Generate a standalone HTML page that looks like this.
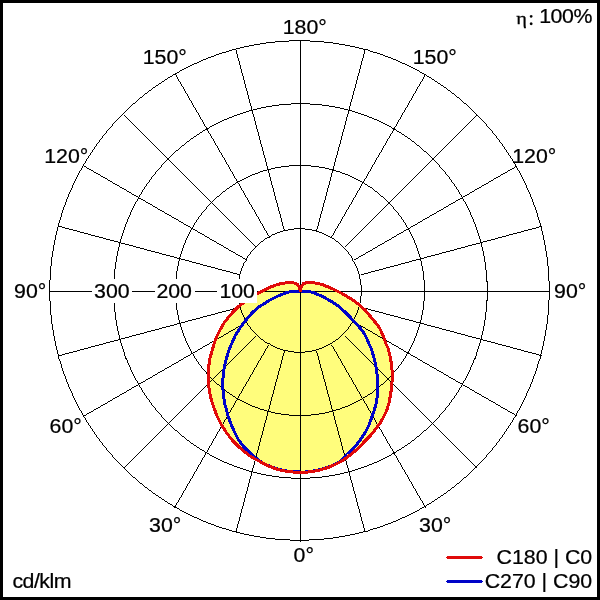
<!DOCTYPE html>
<html><head><meta charset="utf-8"><title>Polar intensity diagram</title>
<style>
html,body{margin:0;padding:0;background:#fff;}
body{width:600px;height:600px;overflow:hidden;}
svg{display:block;}
text{font-family:"Liberation Sans",Arial,sans-serif;font-size:21.33px;fill:#000;stroke:#000;stroke-width:0.25px;}
.sym{font-family:"Liberation Serif","DejaVu Serif",serif;}
</style></head><body>
<svg width="600" height="600" viewBox="0 0 600 600">
<rect x="0" y="0" width="600" height="600" fill="#000"/>
<rect x="3" y="3" width="594" height="594" fill="#fff"/>
<g shape-rendering="crispEdges">
<path d="M300.2,291.0 L299.3,287.5 L298.2,285.3 L296.7,283.8 L294.0,283.0 L290.0,282.6 L285.0,283.0 L280.0,283.8 L275.0,285.4 L270.0,287.3 L265.0,289.7 L260.0,292.1 L257.5,293.5 L250.0,298.3 L246.0,301.0 L242.0,304.0 L238.0,307.0 L234.0,311.0 L229.0,316.5 L224.0,323.0 L220.0,330.0 L216.5,337.0 L214.0,344.0 L212.0,351.0 L210.0,358.0 L208.8,366.0 L208.2,374.0 L208.3,382.0 L209.2,390.0 L210.8,398.0 L213.0,405.0 L217.0,416.0 L221.0,424.0 L226.0,432.0 L232.0,440.0 L239.0,447.0 L246.0,453.0 L250.0,456.0 L255.0,459.0 L260.0,461.5 L265.0,464.5 L270.0,466.5 L275.0,468.5 L280.0,470.0 L285.0,471.0 L290.0,471.8 L295.0,472.2 L300.2,472.4 L305.0,472.3 L310.0,471.8 L315.0,471.0 L320.0,470.0 L325.0,468.5 L330.0,466.8 L335.0,464.5 L340.0,462.0 L345.0,459.0 L350.0,455.2 L355.0,451.0 L360.0,446.5 L364.0,442.0 L370.0,436.0 L375.0,430.0 L379.5,424.0 L383.0,418.0 L386.5,411.0 L389.0,403.0 L390.5,395.0 L391.5,388.0 L392.2,380.0 L392.2,372.0 L391.5,364.0 L390.0,356.0 L388.0,348.0 L386.0,344.0 L384.0,338.0 L381.5,332.0 L379.0,327.0 L375.0,322.0 L370.0,316.0 L365.0,310.0 L360.0,305.5 L355.0,301.5 L352.0,299.5 L347.0,296.5 L342.0,293.5 L337.0,291.0 L332.0,288.5 L327.0,286.5 L322.0,284.5 L317.0,283.2 L312.0,282.6 L307.0,282.6 L303.5,283.5 L301.5,286.0 L300.2,291.0Z" fill="#fffd7c" stroke="none"/>
<g fill="none" stroke="#000" stroke-width="1">
<path d="M49,291.5H550M300.5,40V542"/>
<g id="thin">
<path stroke-width="0.707" d="M344.55,335.55L477.28,468.28M344.55,247.45L477.28,114.72M256.45,247.45L123.72,114.72M256.45,335.55L123.72,468.28"/>
<path stroke-width="0.725" d="M466.11,476.51A249.72,249.72 0 0 0 476.54,466.62M475.62,467.54A249.72,249.72 0 0 0 485.51,457.11M485.51,123.89A249.72,249.72 0 0 0 475.62,113.46M476.54,114.38A249.72,249.72 0 0 0 466.11,104.49M132.89,104.49A249.72,249.72 0 0 0 122.46,114.38M123.38,113.46A249.72,249.72 0 0 0 113.49,123.89M113.49,457.11A249.72,249.72 0 0 0 123.38,467.54M122.46,466.62A249.72,249.72 0 0 0 132.89,476.51M425.10,430.48A186.75,187.25 0 0 0 432.90,423.06M432.21,423.75A186.75,187.25 0 0 0 439.61,415.93M439.61,166.07A186.75,187.25 0 0 0 432.21,158.25M432.90,158.94A186.75,187.25 0 0 0 425.10,151.52M175.90,151.52A186.75,187.25 0 0 0 168.10,158.94M168.79,158.25A186.75,187.25 0 0 0 161.39,166.07M161.39,415.93A186.75,187.25 0 0 0 168.79,423.75M168.10,423.06A186.75,187.25 0 0 0 175.90,430.48M383.06,383.61A124.5,125 0 0 0 388.26,378.66M387.80,379.12A124.5,125 0 0 0 392.74,373.90M392.74,207.10A124.5,125 0 0 0 387.80,201.88M388.26,202.34A124.5,125 0 0 0 383.06,197.39M216.94,197.39A124.5,125 0 0 0 211.74,202.34M212.20,201.88A124.5,125 0 0 0 207.26,207.10M207.26,373.90A124.5,125 0 0 0 212.20,379.12M211.74,378.66A124.5,125 0 0 0 216.94,383.61M340.68,336.47A61.72,61.72 0 0 0 343.26,334.03M343.03,334.26A61.72,61.72 0 0 0 345.47,331.68M345.47,249.32A61.72,61.72 0 0 0 343.03,246.74M343.26,246.97A61.72,61.72 0 0 0 340.68,244.53M258.32,244.53A61.72,61.72 0 0 0 255.74,246.97M255.97,246.74A61.72,61.72 0 0 0 253.53,249.32M253.53,331.68A61.72,61.72 0 0 0 255.97,334.26M255.74,334.03A61.72,61.72 0 0 0 258.32,336.47"/>
<path stroke-width="0.76" d="M456.15,484.98A249.72,249.72 0 0 0 467.08,475.64M484.64,458.08A249.72,249.72 0 0 0 493.98,447.15M493.98,133.85A249.72,249.72 0 0 0 484.64,122.92M467.08,105.36A249.72,249.72 0 0 0 456.15,96.02M142.85,96.02A249.72,249.72 0 0 0 131.92,105.36M114.36,122.92A249.72,249.72 0 0 0 105.02,133.85M105.02,447.15A249.72,249.72 0 0 0 114.36,458.08M131.92,475.64A249.72,249.72 0 0 0 142.85,484.98M417.65,436.83A186.75,187.25 0 0 0 425.82,429.83M438.95,416.66A186.75,187.25 0 0 0 445.94,408.46M445.94,173.54A186.75,187.25 0 0 0 438.95,165.34M425.82,152.17A186.75,187.25 0 0 0 417.65,145.17M183.35,145.17A186.75,187.25 0 0 0 175.18,152.17M162.05,165.34A186.75,187.25 0 0 0 155.06,173.54M155.06,408.46A186.75,187.25 0 0 0 162.05,416.66M175.18,429.83A186.75,187.25 0 0 0 183.35,436.83M378.10,387.85A124.5,125 0 0 0 383.55,383.17M392.30,374.38A124.5,125 0 0 0 396.96,368.91M396.96,212.09A124.5,125 0 0 0 392.30,206.62M383.55,197.83A124.5,125 0 0 0 378.10,193.15M221.90,193.15A124.5,125 0 0 0 216.45,197.83M207.70,206.62A124.5,125 0 0 0 203.04,212.09M203.04,368.91A124.5,125 0 0 0 207.70,374.38M216.45,383.17A124.5,125 0 0 0 221.90,387.85M338.22,338.57A61.72,61.72 0 0 0 340.92,336.26M345.26,331.92A61.72,61.72 0 0 0 347.57,329.22M347.57,251.78A61.72,61.72 0 0 0 345.26,249.08M340.92,244.74A61.72,61.72 0 0 0 338.22,242.43M260.78,242.43A61.72,61.72 0 0 0 258.08,244.74M253.74,249.08A61.72,61.72 0 0 0 251.43,251.78M251.43,329.22A61.72,61.72 0 0 0 253.74,331.92M258.08,336.26A61.72,61.72 0 0 0 260.78,338.57"/>
<path stroke-width="0.793" d="M445.75,492.91A249.72,249.72 0 0 0 457.16,484.16M493.16,448.16A249.72,249.72 0 0 0 501.91,436.75M501.91,144.25A249.72,249.72 0 0 0 493.16,132.84M457.16,96.84A249.72,249.72 0 0 0 445.75,88.09M153.25,88.09A249.72,249.72 0 0 0 141.84,96.84M105.84,132.84A249.72,249.72 0 0 0 97.09,144.25M97.09,436.75A249.72,249.72 0 0 0 105.84,448.16M141.84,484.16A249.72,249.72 0 0 0 153.25,492.91M409.87,442.78A186.75,187.25 0 0 0 418.41,436.21M445.32,409.22A186.75,187.25 0 0 0 451.87,400.67M451.87,181.33A186.75,187.25 0 0 0 445.32,172.78M418.41,145.79A186.75,187.25 0 0 0 409.87,139.22M191.13,139.22A186.75,187.25 0 0 0 182.59,145.79M155.68,172.78A186.75,187.25 0 0 0 149.13,181.33M149.13,400.67A186.75,187.25 0 0 0 155.68,409.22M182.59,436.21A186.75,187.25 0 0 0 191.13,442.78M372.92,391.82A124.5,125 0 0 0 378.60,387.44M396.55,369.42A124.5,125 0 0 0 400.91,363.71M400.91,217.29A124.5,125 0 0 0 396.55,211.58M378.60,193.56A124.5,125 0 0 0 372.92,189.18M227.08,189.18A124.5,125 0 0 0 221.40,193.56M203.45,211.58A124.5,125 0 0 0 199.09,217.29M199.09,363.71A124.5,125 0 0 0 203.45,369.42M221.40,387.44A124.5,125 0 0 0 227.08,391.82M335.65,340.53A61.72,61.72 0 0 0 338.47,338.36M347.36,329.47A61.72,61.72 0 0 0 349.53,326.65M349.53,254.35A61.72,61.72 0 0 0 347.36,251.53M338.47,242.64A61.72,61.72 0 0 0 335.65,240.47M263.35,240.47A61.72,61.72 0 0 0 260.53,242.64M251.64,251.53A61.72,61.72 0 0 0 249.47,254.35M249.47,326.65A61.72,61.72 0 0 0 251.64,329.47M260.53,338.36A61.72,61.72 0 0 0 263.35,340.53"/>
<path stroke-width="0.824" d="M434.96,500.29A249.72,249.72 0 0 0 446.81,492.14M501.14,437.81A249.72,249.72 0 0 0 509.29,425.96M509.29,155.04A249.72,249.72 0 0 0 501.14,143.19M446.81,88.86A249.72,249.72 0 0 0 434.96,80.71M164.04,80.71A249.72,249.72 0 0 0 152.19,88.86M97.86,143.19A249.72,249.72 0 0 0 89.71,155.04M89.71,425.96A249.72,249.72 0 0 0 97.86,437.81M152.19,492.14A249.72,249.72 0 0 0 164.04,500.29M401.80,448.31A186.75,187.25 0 0 0 410.66,442.20M451.30,401.46A186.75,187.25 0 0 0 457.39,392.57M457.39,189.43A186.75,187.25 0 0 0 451.30,180.54M410.66,139.80A186.75,187.25 0 0 0 401.80,133.69M199.20,133.69A186.75,187.25 0 0 0 190.34,139.80M149.70,180.54A186.75,187.25 0 0 0 143.61,189.43M143.61,392.57A186.75,187.25 0 0 0 149.70,401.46M190.34,442.20A186.75,187.25 0 0 0 199.20,448.31M367.53,395.51A124.5,125 0 0 0 373.44,391.43M400.53,364.24A124.5,125 0 0 0 404.59,358.31M404.59,222.69A124.5,125 0 0 0 400.53,216.76M373.44,189.57A124.5,125 0 0 0 367.53,185.49M232.47,185.49A124.5,125 0 0 0 226.56,189.57M199.47,216.76A124.5,125 0 0 0 195.41,222.69M195.41,358.31A124.5,125 0 0 0 199.47,364.24M226.56,391.43A124.5,125 0 0 0 232.47,395.51M332.98,342.35A61.72,61.72 0 0 0 335.91,340.34M349.34,326.91A61.72,61.72 0 0 0 351.35,323.98M351.35,257.02A61.72,61.72 0 0 0 349.34,254.09M335.91,240.66A61.72,61.72 0 0 0 332.98,238.65M266.02,238.65A61.72,61.72 0 0 0 263.09,240.66M249.66,254.09A61.72,61.72 0 0 0 247.65,257.02M247.65,323.98A61.72,61.72 0 0 0 249.66,326.91M263.09,340.34A61.72,61.72 0 0 0 266.02,342.35"/>
<path stroke-width="0.853" d="M423.79,507.09A249.72,249.72 0 0 0 436.06,499.58M508.58,427.06A249.72,249.72 0 0 0 516.09,414.79M516.09,166.21A249.72,249.72 0 0 0 508.58,153.94M436.06,81.42A249.72,249.72 0 0 0 423.79,73.91M175.21,73.91A249.72,249.72 0 0 0 162.94,81.42M90.42,153.94A249.72,249.72 0 0 0 82.91,166.21M82.91,414.79A249.72,249.72 0 0 0 90.42,427.06M162.94,499.58A249.72,249.72 0 0 0 175.21,507.09M393.45,453.41A186.75,187.25 0 0 0 402.62,447.77M456.85,393.39A186.75,187.25 0 0 0 462.47,384.20M462.47,197.80A186.75,187.25 0 0 0 456.85,188.61M402.62,134.23A186.75,187.25 0 0 0 393.45,128.59M207.55,128.59A186.75,187.25 0 0 0 198.38,134.23M144.15,188.61A186.75,187.25 0 0 0 138.53,197.80M138.53,384.20A186.75,187.25 0 0 0 144.15,393.39M198.38,447.77A186.75,187.25 0 0 0 207.55,453.41M361.97,398.92A124.5,125 0 0 0 368.08,395.16M404.24,358.85A124.5,125 0 0 0 407.98,352.72M407.98,228.28A124.5,125 0 0 0 404.24,222.15M368.08,185.84A124.5,125 0 0 0 361.97,182.08M238.03,182.08A124.5,125 0 0 0 231.92,185.84M195.76,222.15A124.5,125 0 0 0 192.02,228.28M192.02,352.72A124.5,125 0 0 0 195.76,358.85M231.92,395.16A124.5,125 0 0 0 238.03,398.92M330.22,344.03A61.72,61.72 0 0 0 333.25,342.17M351.17,324.25A61.72,61.72 0 0 0 353.03,321.22M353.03,259.78A61.72,61.72 0 0 0 351.17,256.75M333.25,238.83A61.72,61.72 0 0 0 330.22,236.97M268.78,236.97A61.72,61.72 0 0 0 265.75,238.83M247.83,256.75A61.72,61.72 0 0 0 245.97,259.78M245.97,321.22A61.72,61.72 0 0 0 247.83,324.25M265.75,342.17A61.72,61.72 0 0 0 268.78,344.03"/>
<path stroke-width="0.866" d="M331.65,344.95L425.50,507.51M354.45,322.15L517.01,416.00M354.45,259.85L517.01,166.00M331.65,237.05L425.50,74.49M269.35,237.05L175.50,74.49M246.55,259.85L83.99,166.00M246.55,322.15L83.99,416.00M268.55,344.95L174.70,507.51"/>
<path stroke-width="0.879" d="M412.29,513.30A249.72,249.72 0 0 0 424.93,506.44M515.44,415.93A249.72,249.72 0 0 0 522.30,403.29M522.30,177.71A249.72,249.72 0 0 0 515.44,165.07M424.93,74.56A249.72,249.72 0 0 0 412.29,67.70M186.71,67.70A249.72,249.72 0 0 0 174.07,74.56M83.56,165.07A249.72,249.72 0 0 0 76.70,177.71M76.70,403.29A249.72,249.72 0 0 0 83.56,415.93M174.07,506.44A249.72,249.72 0 0 0 186.71,513.30M384.85,458.06A186.75,187.25 0 0 0 394.30,452.92M461.99,385.05A186.75,187.25 0 0 0 467.12,375.57M467.12,206.43A186.75,187.25 0 0 0 461.99,196.95M394.30,129.08A186.75,187.25 0 0 0 384.85,123.94M216.15,123.94A186.75,187.25 0 0 0 206.70,129.08M139.01,196.95A186.75,187.25 0 0 0 133.88,206.43M133.88,375.57A186.75,187.25 0 0 0 139.01,385.05M206.70,452.92A186.75,187.25 0 0 0 216.15,458.06M356.23,402.02A124.5,125 0 0 0 362.53,398.59M407.66,353.28A124.5,125 0 0 0 411.08,346.96M411.08,234.04A124.5,125 0 0 0 407.66,227.72M362.53,182.41A124.5,125 0 0 0 356.23,178.98M243.77,178.98A124.5,125 0 0 0 237.47,182.41M192.34,227.72A124.5,125 0 0 0 188.92,234.04M188.92,346.96A124.5,125 0 0 0 192.34,353.28M237.47,398.59A124.5,125 0 0 0 243.77,402.02M327.38,345.57A61.72,61.72 0 0 0 330.50,343.87M352.87,321.50A61.72,61.72 0 0 0 354.57,318.38M354.57,262.62A61.72,61.72 0 0 0 352.87,259.50M330.50,237.13A61.72,61.72 0 0 0 327.38,235.43M271.62,235.43A61.72,61.72 0 0 0 268.50,237.13M246.13,259.50A61.72,61.72 0 0 0 244.43,262.62M244.43,318.38A61.72,61.72 0 0 0 246.13,321.50M268.50,343.87A61.72,61.72 0 0 0 271.62,345.57"/>
<path stroke-width="0.903" d="M400.47,518.90A249.72,249.72 0 0 0 413.45,512.70M521.70,404.45A249.72,249.72 0 0 0 527.90,391.47M527.90,189.53A249.72,249.72 0 0 0 521.70,176.55M413.45,68.30A249.72,249.72 0 0 0 400.47,62.10M198.53,62.10A249.72,249.72 0 0 0 185.55,68.30M77.30,176.55A249.72,249.72 0 0 0 71.10,189.53M71.10,391.47A249.72,249.72 0 0 0 77.30,404.45M185.55,512.70A249.72,249.72 0 0 0 198.53,518.90M376.01,462.26A186.75,187.25 0 0 0 385.72,457.62M466.67,376.45A186.75,187.25 0 0 0 471.30,366.71M471.30,215.29A186.75,187.25 0 0 0 466.67,205.55M385.72,124.38A186.75,187.25 0 0 0 376.01,119.74M224.99,119.74A186.75,187.25 0 0 0 215.28,124.38M134.33,205.55A186.75,187.25 0 0 0 129.70,215.29M129.70,366.71A186.75,187.25 0 0 0 134.33,376.45M215.28,457.62A186.75,187.25 0 0 0 224.99,462.26M350.34,404.83A124.5,125 0 0 0 356.81,401.73M410.78,347.54A124.5,125 0 0 0 413.87,341.04M413.87,239.96A124.5,125 0 0 0 410.78,233.46M356.81,179.27A124.5,125 0 0 0 350.34,176.17M249.66,176.17A124.5,125 0 0 0 243.19,179.27M189.22,233.46A124.5,125 0 0 0 186.13,239.96M186.13,341.04A124.5,125 0 0 0 189.22,347.54M243.19,401.73A124.5,125 0 0 0 249.66,404.83M324.46,346.95A61.72,61.72 0 0 0 327.66,345.42M354.42,318.66A61.72,61.72 0 0 0 355.95,315.46M355.95,265.54A61.72,61.72 0 0 0 354.42,262.34M327.66,235.58A61.72,61.72 0 0 0 324.46,234.05M274.54,234.05A61.72,61.72 0 0 0 271.34,235.58M244.58,262.34A61.72,61.72 0 0 0 243.05,265.54M243.05,315.46A61.72,61.72 0 0 0 244.58,318.66M271.34,345.42A61.72,61.72 0 0 0 274.54,346.95"/>
<path stroke-width="0.924" d="M388.38,523.87A249.72,249.72 0 0 0 401.67,518.36M527.36,392.67A249.72,249.72 0 0 0 532.87,379.38M532.87,201.62A249.72,249.72 0 0 0 527.36,188.33M401.67,62.64A249.72,249.72 0 0 0 388.38,57.13M210.62,57.13A249.72,249.72 0 0 0 197.33,62.64M71.64,188.33A249.72,249.72 0 0 0 66.13,201.62M66.13,379.38A249.72,249.72 0 0 0 71.64,392.67M197.33,518.36A249.72,249.72 0 0 0 210.62,523.87M366.97,465.99A186.75,187.25 0 0 0 376.90,461.86M470.91,367.61A186.75,187.25 0 0 0 475.02,357.65M475.02,224.35A186.75,187.25 0 0 0 470.91,214.39M376.90,120.14A186.75,187.25 0 0 0 366.97,116.01M234.03,116.01A186.75,187.25 0 0 0 224.10,120.14M130.09,214.39A186.75,187.25 0 0 0 125.98,224.35M125.98,357.65A186.75,187.25 0 0 0 130.09,367.61M224.10,461.86A186.75,187.25 0 0 0 234.03,465.99M344.31,407.31A124.5,125 0 0 0 350.94,404.56M413.60,341.64A124.5,125 0 0 0 416.35,334.99M416.35,246.01A124.5,125 0 0 0 413.60,239.36M350.94,176.44A124.5,125 0 0 0 344.31,173.69M255.69,173.69A124.5,125 0 0 0 249.06,176.44M186.40,239.36A124.5,125 0 0 0 183.65,246.01M183.65,334.99A124.5,125 0 0 0 186.40,341.64M249.06,404.56A124.5,125 0 0 0 255.69,407.31M321.47,348.18A61.72,61.72 0 0 0 324.75,346.82M355.82,315.75A61.72,61.72 0 0 0 357.18,312.47M357.18,268.53A61.72,61.72 0 0 0 355.82,265.25M324.75,234.18A61.72,61.72 0 0 0 321.47,232.82M277.53,232.82A61.72,61.72 0 0 0 274.25,234.18M243.18,265.25A61.72,61.72 0 0 0 241.82,268.53M241.82,312.47A61.72,61.72 0 0 0 243.18,315.75M274.25,346.82A61.72,61.72 0 0 0 277.53,348.18"/>
<path stroke-width="0.943" d="M376.05,528.20A249.72,249.72 0 0 0 389.60,523.40M532.40,380.60A249.72,249.72 0 0 0 537.20,367.05M537.20,213.95A249.72,249.72 0 0 0 532.40,200.40M389.60,57.60A249.72,249.72 0 0 0 376.05,52.80M222.95,52.80A249.72,249.72 0 0 0 209.40,57.60M66.60,200.40A249.72,249.72 0 0 0 61.80,213.95M61.80,367.05A249.72,249.72 0 0 0 66.60,380.60M209.40,523.40A249.72,249.72 0 0 0 222.95,528.20M357.74,469.24A186.75,187.25 0 0 0 367.88,465.64M474.67,358.56A186.75,187.25 0 0 0 478.26,348.40M478.26,233.60A186.75,187.25 0 0 0 474.67,223.44M367.88,116.36A186.75,187.25 0 0 0 357.74,112.76M243.26,112.76A186.75,187.25 0 0 0 233.12,116.36M126.33,223.44A186.75,187.25 0 0 0 122.74,233.60M122.74,348.40A186.75,187.25 0 0 0 126.33,358.56M233.12,465.64A186.75,187.25 0 0 0 243.26,469.24M338.16,409.48A124.5,125 0 0 0 344.92,407.08M416.11,335.60A124.5,125 0 0 0 418.51,328.82M418.51,252.18A124.5,125 0 0 0 416.11,245.40M344.92,173.92A124.5,125 0 0 0 338.16,171.52M261.84,171.52A124.5,125 0 0 0 255.08,173.92M183.89,245.40A124.5,125 0 0 0 181.49,252.18M181.49,328.82A124.5,125 0 0 0 183.89,335.60M255.08,407.08A124.5,125 0 0 0 261.84,409.48M318.42,349.25A61.72,61.72 0 0 0 321.77,348.06M357.06,312.77A61.72,61.72 0 0 0 358.25,309.42M358.25,271.58A61.72,61.72 0 0 0 357.06,268.23M321.77,232.94A61.72,61.72 0 0 0 318.42,231.75M280.58,231.75A61.72,61.72 0 0 0 277.23,232.94M241.94,268.23A61.72,61.72 0 0 0 240.75,271.58M240.75,309.42A61.72,61.72 0 0 0 241.94,312.77M277.23,348.06A61.72,61.72 0 0 0 280.58,349.25"/>
<path stroke-width="0.959" d="M363.50,531.88A249.72,249.72 0 0 0 377.29,527.79M536.79,368.29A249.72,249.72 0 0 0 540.88,354.50M540.88,226.50A249.72,249.72 0 0 0 536.79,212.71M377.29,53.21A249.72,249.72 0 0 0 363.50,49.12M235.50,49.12A249.72,249.72 0 0 0 221.71,53.21M62.21,212.71A249.72,249.72 0 0 0 58.12,226.50M58.12,354.50A249.72,249.72 0 0 0 62.21,368.29M221.71,527.79A249.72,249.72 0 0 0 235.50,531.88M348.36,472.00A186.75,187.25 0 0 0 358.67,468.93M477.96,349.33A186.75,187.25 0 0 0 481.01,338.99M481.01,243.01A186.75,187.25 0 0 0 477.96,232.67M358.67,113.07A186.75,187.25 0 0 0 348.36,110.00M252.64,110.00A186.75,187.25 0 0 0 242.33,113.07M123.04,232.67A186.75,187.25 0 0 0 119.99,243.01M119.99,338.99A186.75,187.25 0 0 0 123.04,349.33M242.33,468.93A186.75,187.25 0 0 0 252.64,472.00M331.91,411.33A124.5,125 0 0 0 338.78,409.28M418.31,329.44A124.5,125 0 0 0 420.34,322.54M420.34,258.46A124.5,125 0 0 0 418.31,251.56M338.78,171.72A124.5,125 0 0 0 331.91,169.67M268.09,169.67A124.5,125 0 0 0 261.22,171.72M181.69,251.56A124.5,125 0 0 0 179.66,258.46M179.66,322.54A124.5,125 0 0 0 181.69,329.44M261.22,409.28A124.5,125 0 0 0 268.09,411.33M315.32,350.16A61.72,61.72 0 0 0 318.73,349.15M358.15,309.73A61.72,61.72 0 0 0 359.16,306.32M359.16,274.68A61.72,61.72 0 0 0 358.15,271.27M318.73,231.85A61.72,61.72 0 0 0 315.32,230.84M283.68,230.84A61.72,61.72 0 0 0 280.27,231.85M240.85,271.27A61.72,61.72 0 0 0 239.84,274.68M239.84,306.32A61.72,61.72 0 0 0 240.85,309.73M280.27,349.15A61.72,61.72 0 0 0 283.68,350.16"/>
<path stroke-width="0.966" d="M316.62,351.18L365.20,532.48M360.68,307.12L541.98,355.70M360.68,274.88L541.98,226.30M316.62,230.82L365.20,49.52M284.38,230.82L235.80,49.52M240.32,274.88L59.02,226.30M240.32,307.12L59.02,355.70M284.38,351.18L235.80,532.48"/>
<path stroke-width="0.972" d="M350.78,534.90A249.72,249.72 0 0 0 364.76,531.54M540.54,355.76A249.72,249.72 0 0 0 543.90,341.78M543.90,239.22A249.72,249.72 0 0 0 540.54,225.24M364.76,49.46A249.72,249.72 0 0 0 350.78,46.10M248.22,46.10A249.72,249.72 0 0 0 234.24,49.46M58.46,225.24A249.72,249.72 0 0 0 55.10,239.22M55.10,341.78A249.72,249.72 0 0 0 58.46,355.76M234.24,531.54A249.72,249.72 0 0 0 248.22,534.90M338.85,474.26A186.75,187.25 0 0 0 349.31,471.74M480.76,339.94A186.75,187.25 0 0 0 483.27,329.45M483.27,252.55A186.75,187.25 0 0 0 480.76,242.06M349.31,110.26A186.75,187.25 0 0 0 338.85,107.74M262.15,107.74A186.75,187.25 0 0 0 251.69,110.26M120.24,242.06A186.75,187.25 0 0 0 117.73,252.55M117.73,329.45A186.75,187.25 0 0 0 120.24,339.94M251.69,471.74A186.75,187.25 0 0 0 262.15,474.26M325.57,412.84A124.5,125 0 0 0 332.54,411.16M420.17,323.17A124.5,125 0 0 0 421.85,316.17M421.85,264.83A124.5,125 0 0 0 420.17,257.83M332.54,169.84A124.5,125 0 0 0 325.57,168.16M274.43,168.16A124.5,125 0 0 0 267.46,169.84M179.83,257.83A124.5,125 0 0 0 178.15,264.83M178.15,316.17A124.5,125 0 0 0 179.83,323.17M267.46,411.16A124.5,125 0 0 0 274.43,412.84M312.17,350.90A61.72,61.72 0 0 0 315.63,350.07M359.07,306.63A61.72,61.72 0 0 0 359.90,303.17M359.90,277.83A61.72,61.72 0 0 0 359.07,274.37M315.63,230.93A61.72,61.72 0 0 0 312.17,230.10M286.83,230.10A61.72,61.72 0 0 0 283.37,230.93M239.93,274.37A61.72,61.72 0 0 0 239.10,277.83M239.10,303.17A61.72,61.72 0 0 0 239.93,306.63M283.37,350.07A61.72,61.72 0 0 0 286.83,350.90"/>
<path stroke-width="0.983" d="M337.92,537.25A249.72,249.72 0 0 0 352.06,534.63M543.63,343.06A249.72,249.72 0 0 0 546.25,328.92M546.25,252.08A249.72,249.72 0 0 0 543.63,237.94M352.06,46.37A249.72,249.72 0 0 0 337.92,43.75M261.08,43.75A249.72,249.72 0 0 0 246.94,46.37M55.37,237.94A249.72,249.72 0 0 0 52.75,252.08M52.75,328.92A249.72,249.72 0 0 0 55.37,343.06M246.94,534.63A249.72,249.72 0 0 0 261.08,537.25M329.23,476.02A186.75,187.25 0 0 0 339.81,474.06M483.07,330.41A186.75,187.25 0 0 0 485.03,319.81M485.03,262.19A186.75,187.25 0 0 0 483.07,251.59M339.81,107.94A186.75,187.25 0 0 0 329.23,105.98M271.77,105.98A186.75,187.25 0 0 0 261.19,107.94M117.93,251.59A186.75,187.25 0 0 0 115.97,262.19M115.97,319.81A186.75,187.25 0 0 0 117.93,330.41M261.19,474.06A186.75,187.25 0 0 0 271.77,476.02M319.15,414.01A124.5,125 0 0 0 326.20,412.70M421.71,316.81A124.5,125 0 0 0 423.02,309.73M423.02,271.27A124.5,125 0 0 0 421.71,264.19M326.20,168.30A124.5,125 0 0 0 319.15,166.99M280.85,166.99A124.5,125 0 0 0 273.80,168.30M178.29,264.19A124.5,125 0 0 0 176.98,271.27M176.98,309.73A124.5,125 0 0 0 178.29,316.81M273.80,412.70A124.5,125 0 0 0 280.85,414.01M309.00,351.49A61.72,61.72 0 0 0 312.49,350.84M359.84,303.49A61.72,61.72 0 0 0 360.49,300.00M360.49,281.00A61.72,61.72 0 0 0 359.84,277.51M312.49,230.16A61.72,61.72 0 0 0 309.00,229.51M290.00,229.51A61.72,61.72 0 0 0 286.51,230.16M239.16,277.51A61.72,61.72 0 0 0 238.51,281.00M238.51,300.00A61.72,61.72 0 0 0 239.16,303.49M286.51,350.84A61.72,61.72 0 0 0 290.00,351.49"/>
<path stroke-width="0.991" d="M324.95,538.92A249.72,249.72 0 0 0 339.21,537.04M546.04,330.21A249.72,249.72 0 0 0 547.92,315.95M547.92,265.05A249.72,249.72 0 0 0 546.04,250.79M339.21,43.96A249.72,249.72 0 0 0 324.95,42.08M274.05,42.08A249.72,249.72 0 0 0 259.79,43.96M52.96,250.79A249.72,249.72 0 0 0 51.08,265.05M51.08,315.95A249.72,249.72 0 0 0 52.96,330.21M259.79,537.04A249.72,249.72 0 0 0 274.05,538.92M319.53,477.27A186.75,187.25 0 0 0 330.20,475.87M484.87,320.78A186.75,187.25 0 0 0 486.28,310.09M486.28,271.91A186.75,187.25 0 0 0 484.87,261.22M330.20,106.13A186.75,187.25 0 0 0 319.53,104.73M281.47,104.73A186.75,187.25 0 0 0 270.80,106.13M116.13,261.22A186.75,187.25 0 0 0 114.72,271.91M114.72,310.09A186.75,187.25 0 0 0 116.13,320.78M270.80,475.87A186.75,187.25 0 0 0 281.47,477.27M312.69,414.85A124.5,125 0 0 0 319.80,413.91M422.92,310.38A124.5,125 0 0 0 423.85,303.24M423.85,277.76A124.5,125 0 0 0 422.92,270.62M319.80,167.09A124.5,125 0 0 0 312.69,166.15M287.31,166.15A124.5,125 0 0 0 280.20,167.09M177.08,270.62A124.5,125 0 0 0 176.15,277.76M176.15,303.24A124.5,125 0 0 0 177.08,310.38M280.20,413.91A124.5,125 0 0 0 287.31,414.85M305.79,351.90A61.72,61.72 0 0 0 309.31,351.43M360.43,300.31A61.72,61.72 0 0 0 360.90,296.79M360.90,284.21A61.72,61.72 0 0 0 360.43,280.69M309.31,229.57A61.72,61.72 0 0 0 305.79,229.10M293.21,229.10A61.72,61.72 0 0 0 289.69,229.57M238.57,280.69A61.72,61.72 0 0 0 238.10,284.21M238.10,296.79A61.72,61.72 0 0 0 238.57,300.31M289.69,351.43A61.72,61.72 0 0 0 293.21,351.90"/>
<path stroke-width="0.997" d="M311.92,539.91A249.72,249.72 0 0 0 326.25,538.78M547.78,317.25A249.72,249.72 0 0 0 548.91,302.92M548.91,278.08A249.72,249.72 0 0 0 547.78,263.75M326.25,42.22A249.72,249.72 0 0 0 311.92,41.09M287.08,41.09A249.72,249.72 0 0 0 272.75,42.22M51.22,263.75A249.72,249.72 0 0 0 50.09,278.08M50.09,302.92A249.72,249.72 0 0 0 51.22,317.25M272.75,538.78A249.72,249.72 0 0 0 287.08,539.91M309.79,478.02A186.75,187.25 0 0 0 320.51,477.17M486.18,311.06A186.75,187.25 0 0 0 487.02,300.31M487.02,281.69A186.75,187.25 0 0 0 486.18,270.94M320.51,104.83A186.75,187.25 0 0 0 309.79,103.98M291.21,103.98A186.75,187.25 0 0 0 280.49,104.83M114.82,270.94A186.75,187.25 0 0 0 113.98,281.69M113.98,300.31A186.75,187.25 0 0 0 114.82,311.06M280.49,477.17A186.75,187.25 0 0 0 291.21,478.02M306.19,415.35A124.5,125 0 0 0 313.34,414.78M423.78,303.89A124.5,125 0 0 0 424.35,296.72M424.35,284.28A124.5,125 0 0 0 423.78,277.11M313.34,166.22A124.5,125 0 0 0 306.19,165.65M293.81,165.65A124.5,125 0 0 0 286.66,166.22M176.22,277.11A124.5,125 0 0 0 175.65,284.28M175.65,296.72A124.5,125 0 0 0 176.22,303.89M286.66,414.78A124.5,125 0 0 0 293.81,415.35M302.57,352.14A61.72,61.72 0 0 0 306.11,351.86M360.86,297.11A61.72,61.72 0 0 0 361.14,293.57M361.14,287.43A61.72,61.72 0 0 0 360.86,283.89M306.11,229.14A61.72,61.72 0 0 0 302.57,228.86M296.43,228.86A61.72,61.72 0 0 0 292.89,229.14M238.14,283.89A61.72,61.72 0 0 0 237.86,287.43M237.86,293.57A61.72,61.72 0 0 0 238.14,297.11M292.89,351.86A61.72,61.72 0 0 0 296.43,352.14"/>
<path stroke-width="1.0" d="M298.85,540.22A249.72,249.72 0 0 0 313.22,539.84M548.84,304.22A249.72,249.72 0 0 0 549.22,289.85M549.22,291.15A249.72,249.72 0 0 0 548.84,276.78M313.22,41.16A249.72,249.72 0 0 0 298.85,40.78M300.15,40.78A249.72,249.72 0 0 0 285.78,41.16M50.16,276.78A249.72,249.72 0 0 0 49.78,291.15M49.78,289.85A249.72,249.72 0 0 0 50.16,304.22M285.78,539.84A249.72,249.72 0 0 0 300.15,540.22M300.01,478.25A186.75,187.25 0 0 0 310.76,477.97M486.97,301.29A186.75,187.25 0 0 0 487.25,290.51M487.25,291.49A186.75,187.25 0 0 0 486.97,280.71M310.76,104.03A186.75,187.25 0 0 0 300.01,103.75M300.99,103.75A186.75,187.25 0 0 0 290.24,104.03M114.03,280.71A186.75,187.25 0 0 0 113.75,291.49M113.75,290.51A186.75,187.25 0 0 0 114.03,301.29M290.24,477.97A186.75,187.25 0 0 0 300.99,478.25M299.67,415.50A124.5,125 0 0 0 306.84,415.31M424.31,297.37A124.5,125 0 0 0 424.50,290.17M424.50,290.83A124.5,125 0 0 0 424.31,283.63M306.84,165.69A124.5,125 0 0 0 299.67,165.50M300.33,165.50A124.5,125 0 0 0 293.16,165.69M175.69,283.63A124.5,125 0 0 0 175.50,290.83M175.50,290.17A124.5,125 0 0 0 175.69,297.37M293.16,415.31A124.5,125 0 0 0 300.33,415.50M299.34,352.22A61.72,61.72 0 0 0 302.89,352.13M361.13,293.89A61.72,61.72 0 0 0 361.22,290.34M361.22,290.66A61.72,61.72 0 0 0 361.13,287.11M302.89,228.87A61.72,61.72 0 0 0 299.34,228.78M299.66,228.78A61.72,61.72 0 0 0 296.11,228.87M237.87,287.11A61.72,61.72 0 0 0 237.78,290.66M237.78,290.34A61.72,61.72 0 0 0 237.87,293.89M296.11,352.13A61.72,61.72 0 0 0 299.66,352.22"/>
</g>
<use href="#thin"/><use href="#thin"/>
</g>
<path d="M300.2,291.0 L293.0,291.0 L288.0,292.2 L283.0,294.0 L277.0,296.5 L270.0,300.0 L263.0,304.5 L258.5,307.0 L252.0,313.0 L246.0,320.0 L240.0,328.0 L235.0,336.0 L231.5,344.0 L229.0,350.0 L226.5,358.0 L224.5,366.0 L223.3,374.0 L222.7,382.0 L223.0,390.0 L223.8,398.0 L225.0,405.0 L226.0,408.0 L228.0,416.0 L231.0,424.0 L234.5,432.0 L238.5,440.0 L244.0,447.0 L250.0,452.8 L255.0,457.3 L260.0,461.2 L265.0,464.2 L270.0,466.2 L275.0,468.2 L280.0,469.7 L285.0,470.7 L290.0,471.5 L295.0,471.9 L300.2,472.0 L305.0,472.0 L310.0,471.5 L315.0,470.7 L320.0,469.7 L325.0,468.2 L330.0,466.5 L335.0,464.2 L340.0,461.7 L342.0,459.5 L345.0,456.8 L347.5,454.5 L351.0,451.0 L356.5,445.0 L361.5,438.0 L365.5,432.0 L369.0,425.0 L371.5,418.0 L374.0,411.0 L376.2,403.0 L377.5,395.0 L377.7,388.0 L377.5,380.0 L376.8,372.0 L375.5,364.0 L373.5,356.0 L371.0,348.0 L369.0,344.0 L367.5,340.0 L366.5,338.0 L364.0,333.0 L360.0,328.0 L355.0,322.5 L350.0,317.0 L345.0,312.0 L340.0,307.5 L338.0,305.8 L333.0,302.5 L328.0,299.5 L323.0,296.8 L318.0,294.5 L313.0,292.5 L308.0,291.2 L300.2,291.0Z" fill="none" stroke="#0004c8" stroke-width="3" stroke-linejoin="round"/>
<path d="M300.2,291.0 L299.3,287.5 L298.2,285.3 L296.7,283.8 L294.0,283.0 L290.0,282.6 L285.0,283.0 L280.0,283.8 L275.0,285.4 L270.0,287.3 L265.0,289.7 L260.0,292.1 L257.5,293.5 L250.0,298.3 L246.0,301.0 L242.0,304.0 L238.0,307.0 L234.0,311.0 L229.0,316.5 L224.0,323.0 L220.0,330.0 L216.5,337.0 L214.0,344.0 L212.0,351.0 L210.0,358.0 L208.8,366.0 L208.2,374.0 L208.3,382.0 L209.2,390.0 L210.8,398.0 L213.0,405.0 L217.0,416.0 L221.0,424.0 L226.0,432.0 L232.0,440.0 L239.0,447.0 L246.0,453.0 L250.0,456.0 L255.0,459.0 L260.0,461.5 L265.0,464.5 L270.0,466.5 L275.0,468.5 L280.0,470.0 L285.0,471.0 L290.0,471.8 L295.0,472.2 L300.2,472.4 L305.0,472.3 L310.0,471.8 L315.0,471.0 L320.0,470.0 L325.0,468.5 L330.0,466.8 L335.0,464.5 L340.0,462.0 L345.0,459.0 L350.0,455.2 L355.0,451.0 L360.0,446.5 L364.0,442.0 L370.0,436.0 L375.0,430.0 L379.5,424.0 L383.0,418.0 L386.5,411.0 L389.0,403.0 L390.5,395.0 L391.5,388.0 L392.2,380.0 L392.2,372.0 L391.5,364.0 L390.0,356.0 L388.0,348.0 L386.0,344.0 L384.0,338.0 L381.5,332.0 L379.0,327.0 L375.0,322.0 L370.0,316.0 L365.0,310.0 L360.0,305.5 L355.0,301.5 L352.0,299.5 L347.0,296.5 L342.0,293.5 L337.0,291.0 L332.0,288.5 L327.0,286.5 L322.0,284.5 L317.0,283.2 L312.0,282.6 L307.0,282.6 L303.5,283.5 L301.5,286.0 L300.2,291.0Z" fill="none" stroke="#e00a0a" stroke-width="3" stroke-linejoin="round"/>
<g fill="#fff" stroke="none">
<rect x="92" y="279" width="40" height="24"/>
<rect x="154.5" y="279" width="40" height="24"/>
<rect x="217" y="279" width="40" height="24"/>
</g>
<path d="M447,556h35v1h1v1h-1v1h-35v-1h-1v-1h1z" fill="#e00a0a"/>
<path d="M447,580h35v1h1v1h-1v1h-35v-1h-1v-1h1z" fill="#0004c8"/>
</g>
<text transform="translate(282.7,34) scale(1,0.95)" text-anchor="start">180°</text>
<text transform="translate(142.7,64) scale(1,0.95)" text-anchor="start">150°</text>
<text transform="translate(412.7,64) scale(1,0.95)" text-anchor="start">150°</text>
<text transform="translate(44.2,162.5) scale(1,0.95)" text-anchor="start">120°</text>
<text transform="translate(512.2,162.5) scale(1,0.95)" text-anchor="start">120°</text>
<text transform="translate(14.1,297.5) scale(1,0.95)" text-anchor="start">90°</text>
<text transform="translate(554.1,297.5) scale(1,0.95)" text-anchor="start">90°</text>
<text transform="translate(49.6,432.5) scale(1,0.95)" text-anchor="start">60°</text>
<text transform="translate(517.6,432.5) scale(1,0.95)" text-anchor="start">60°</text>
<text transform="translate(149.1,531.5) scale(1,0.95)" text-anchor="start">30°</text>
<text transform="translate(419.1,531.5) scale(1,0.95)" text-anchor="start">30°</text>
<text transform="translate(293.6,561.5) scale(1,0.95)" text-anchor="start">0°</text>
<text transform="translate(94.1,297.5) scale(1,0.95)" text-anchor="start">300</text>
<text transform="translate(156.4,297.5) scale(1,0.95)" text-anchor="start">200</text>
<text transform="translate(219.4,297.5) scale(1,0.95)" text-anchor="start">100</text>
<text transform="translate(12.4,588) scale(1,0.95)" text-anchor="start" letter-spacing="-0.5">cd/klm</text>
<text transform="translate(592.2,564) scale(1,0.95)" text-anchor="end" xml:space="preserve">C180 | C0</text>
<text transform="translate(592.2,588) scale(1,0.95)" text-anchor="end" xml:space="preserve">C270 | C90</text>
<text transform="translate(592.1,22.7) scale(1,0.95)" text-anchor="end" letter-spacing="-0.4">100%</text>
<text class="sym" transform="translate(516.3,24.1) scale(1.2,1.02)" style="font-size:17px">η</text>
<text class="sym" x="528.2" y="24.6" style="font-size:21px">:</text>
</svg>
</body></html>
